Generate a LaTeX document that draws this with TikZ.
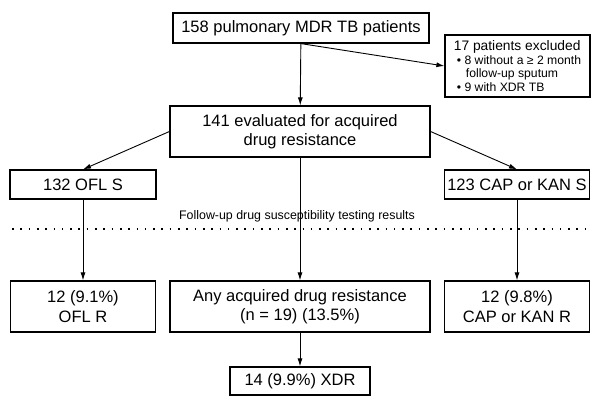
\documentclass[tikz,border=0pt]{standalone}
\usepackage{fontspec}
\setmainfont{Liberation Sans}
\usetikzlibrary{arrows.meta}
\begin{document}
\begin{tikzpicture}[x=1pt,y=-1pt,
  box/.style={draw,line width=1.2pt,inner sep=0pt,align=center,font=\fontsize{16.5}{19.5}\selectfont},
  conn/.style={line width=0.9pt,-{Latex[length=8pt,width=5pt]}},
  every node/.style={text=black}]
\useasboundingbox (0,0) rectangle (600,405);
\node[box,minimum width=256pt,minimum height=30pt] (top) at (301,28) {158 pulmonary MDR TB patients};
\node[box,minimum width=145pt,minimum height=62pt,align=left,font=\fontsize{12.2}{13.4}\selectfont] (excl) at (517.5,66)
  {{\fontsize{13.8}{14}\selectfont 17 patients excluded}\\[0pt]
   \hspace*{3pt}• 8 without a ≥ 2 month\\
   \hspace*{12pt}follow-up sputum\\
   \hspace*{3pt}• 9 with XDR TB};
\node[box,minimum width=260pt,minimum height=51pt] (mid) at (300,131.5) {141 evaluated for acquired\\drug resistance};
\node[box,minimum width=146pt,minimum height=29pt] (ofls) at (83,184.5) {132 OFL S};
\node[box,minimum width=145pt,minimum height=29pt] (caps) at (517,184.5) {123 CAP or KAN S};
\node[font=\fontsize{12.4}{14}\selectfont] (fu) at (297,216.5) {Follow-up drug susceptibility testing results};
\coordinate (dl) at (12,229);
\coordinate (dr) at (590,229);
\draw[line width=1.6pt,dash pattern=on 1.6pt off 6.7pt] (dl) -- (dr);
\node[box,minimum width=145pt,minimum height=51pt] (oflr) at (83,306.5) {12 (9.1\%)\\OFL R};
\node[box,minimum width=260pt,minimum height=51pt] (any) at (300,306.5) {Any acquired drug resistance\\(n = 19) (13.5\%)};
\node[box,minimum width=145pt,minimum height=51pt] (capr) at (517,306.5) {12 (9.8\%)\\CAP or KAN R};
\node[box,minimum width=140pt,minimum height=28pt] (xdr) at (300,381) {14 (9.9\%) XDR};
\draw[conn] (top) -- (mid);
\draw[conn] (top.south) -- (excl.west);
\draw[conn] (mid.west) -- (ofls.north);
\draw[conn] (mid.east) -- (caps.north);
\draw[conn] (ofls) -- (oflr);
\draw[conn] (mid) -- (any);
\draw[conn] (caps) -- (capr);
\draw[conn] (any) -- (xdr);
\end{tikzpicture}
\end{document}
